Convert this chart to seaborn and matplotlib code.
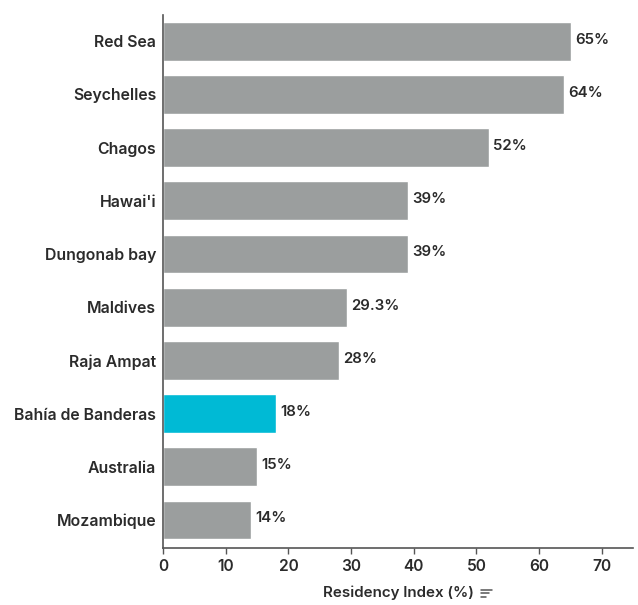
import matplotlib
matplotlib.use("Agg")
import matplotlib.pyplot as plt
from matplotlib.lines import Line2D
import seaborn as sns
import pandas as pd

sites = ["Red Sea", "Seychelles", "Chagos", "Hawai'i", "Dungonab bay",
         "Maldives", "Raja Ampat", "Bahía de Banderas", "Australia", "Mozambique"]
residency = [65, 64, 52, 39, 39, 29.3, 28, 18, 15, 14]
value_labels = ["65%", "64%", "52%", "39%", "39%", "29.3%", "28%", "18%", "15%", "14%"]
highlight = "Bahía de Banderas"
x_ticks = [0, 10, 20, 30, 40, 50, 60, 70]

GREY = "#9b9e9e"
CYAN = "#00bad5"
TEXT = "#2b2b2b"

sns.set_theme(style="white")
plt.rcParams["font.family"] = ["Inter", "DejaVu Sans"]
plt.rcParams["font.weight"] = "semibold"

df = pd.DataFrame({"site": sites, "value": residency})
palette = {s: (CYAN if s == highlight else GREY) for s in sites}

fig = plt.figure(figsize=(6.38, 6.05), dpi=100)
ax = fig.add_axes([0.2555, 0.094, 0.737, 0.881])

sns.barplot(data=df, x="value", y="site", hue="site", palette=palette,
            order=sites, width=0.73, legend=False, ax=ax, saturation=1)

for i, (v, lab) in enumerate(zip(residency, value_labels)):
    ax.text(v + 0.7, i - 0.03, lab, va="center", ha="left", fontsize=10.8,
            color=TEXT, fontweight="semibold")

ax.set_xlim(0, 75)
ax.set_ylim(9.53, -0.49)
ax.set_xticks(x_ticks)
ax.set_xticklabels([str(t) for t in x_ticks], fontsize=11.2, color=TEXT,
                   fontweight="semibold")
ax.tick_params(axis="x", length=4, width=1, color="#555555", pad=4, direction="out", bottom=True)
ax.tick_params(axis="y", length=0, pad=5, labelsize=11.4, labelcolor=TEXT)
for t in ax.get_yticklabels():
    t.set_fontweight("semibold")
ax.set_ylabel("")
ax.set_xlabel("Residency Index (%)", fontsize=10.9, color=TEXT, labelpad=8,
              fontweight="semibold")

for side in ("top", "right"):
    ax.spines[side].set_visible(False)
for side in ("left", "bottom"):
    ax.spines[side].set_color("#555555")
    ax.spines[side].set_linewidth(1.2)

# small sort indicator next to the axis title
fig.canvas.draw()
bb = ax.xaxis.label.get_window_extent()
fw, fh = fig.bbox.width, fig.bbox.height
x0 = (bb.x1 + 7) / fw
yc = (bb.y0 + bb.y1) / 2 / fh
for k, L in enumerate([11, 8, 5]):
    y = yc + (3 - 3.5 * k) / fh
    fig.add_artist(Line2D([x0, x0 + L / fw], [y, y], color="#555555", lw=1.1,
                          transform=fig.transFigure))

fig.savefig("out.png", dpi=100)
